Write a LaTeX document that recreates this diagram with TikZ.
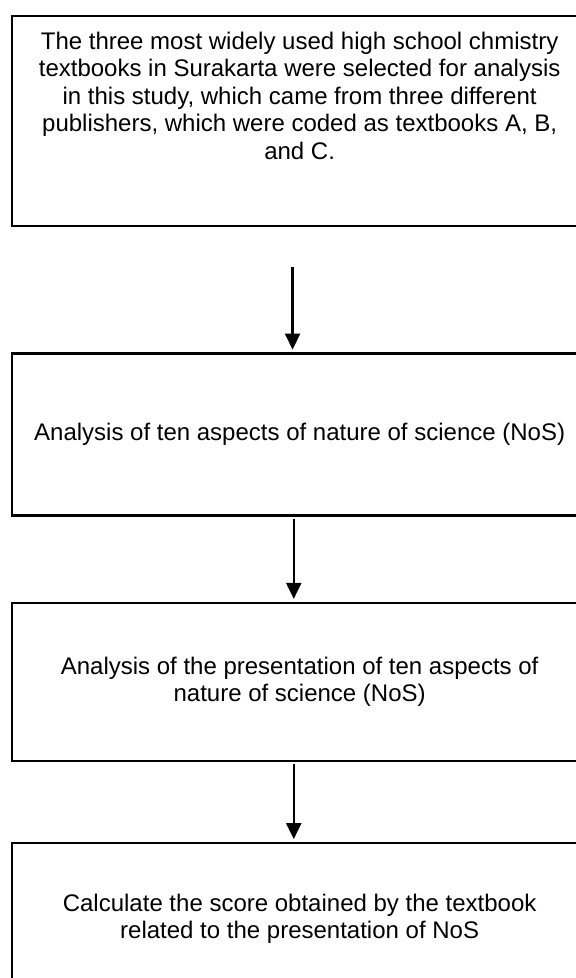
\documentclass[tikz,border=0pt]{standalone}
\usepackage{fontspec}
\setmainfont{Liberation Sans}
\usetikzlibrary{arrows.meta,positioning}

\begin{document}
\begin{tikzpicture}[
  stage/.style={draw, line width=1.7pt, minimum width=431.25pt, inner xsep=0pt, inner ysep=0pt, align=center, font=\fontsize{18pt}{20.6pt}\selectfont},
  flow/.style={-{Triangle[width=11.25pt,length=12pt]}, line width=1.7pt, shorten >=2pt}
]
\useasboundingbox (0,0) rectangle (431.25pt,-733.5pt);
\node[stage, anchor=north west, inner ysep=12pt] (select) at (8.25pt,-11.25pt)
  {\parbox[c][133.5pt][t]{431pt}{\centering The three most widely used high school chmistry\\ textbooks in Surakarta were selected for analysis\\ in this study, which came from three different\\ publishers, which were coded as textbooks A, B,\\ and C.}};
\node[stage, minimum height=121.5pt, below=93.75pt of select] (aspects) {Analysis of ten aspects of nature of science (NoS)};
\node[stage, minimum height=118.5pt, below=63.75pt of aspects] (present) {Analysis of the presentation of ten aspects of\\ nature of science (NoS)};
\node[stage, minimum height=114pt, below=60pt of present] (score) {Calculate the score obtained by the textbook\\ related to the presentation of NoS};

\coordinate[below left=30pt and 5.3pt of select.south] (start);
\draw[flow] (start) -- (start |- aspects.north);
\draw[flow] ([xshift=-4.4pt,yshift=-2pt]aspects.south) -- ([xshift=-4.4pt]present.north);
\draw[flow] ([xshift=-4.4pt,yshift=-2pt]present.south) -- ([xshift=-4.4pt]score.north);
\end{tikzpicture}
\end{document}
